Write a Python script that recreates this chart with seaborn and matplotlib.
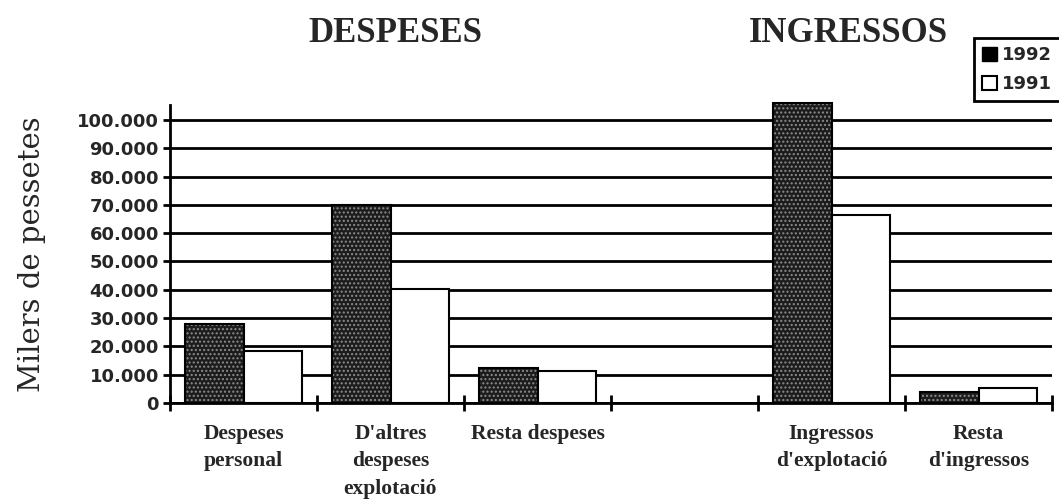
import matplotlib
matplotlib.use("Agg")
import matplotlib.pyplot as plt
import seaborn as sns
import pandas as pd

categories = ["Despeses\npersonal", "D'altres\ndespeses\nexplotació", "Resta despeses",
              "", "Ingressos\nd'explotació", "Resta\nd'ingressos"]
years = ["1992", "1991"]
vals_1992 = [28000, 70000, 12300, None, 106000, 4000]
vals_1991 = [18500, 40300, 11300, None, 66500, 5300]
yticks = list(range(0, 100001, 10000))
ytick_labels = ["0"] + [f"{v // 1000}.000" for v in yticks[1:]]

rows = []
for cat, a, b in zip(categories, vals_1992, vals_1991):
    if a is None:
        continue
    rows.append((cat, "1992", a))
    rows.append((cat, "1991", b))
df = pd.DataFrame(rows, columns=["cat", "year", "value"])

sns.set_style("white")
fig = plt.figure(figsize=(10.59, 5.01), dpi=100)
ax = fig.add_axes([170 / 1059, 98 / 501, 882 / 1059, 298 / 501])

sns.barplot(data=df, x="cat", y="value", hue="year", order=categories, hue_order=years,
            palette={"1992": "#1c1c1c", "1991": "white"}, edgecolor="black", linewidth=1.5,
            width=0.8, gap=0, saturation=1, ax=ax, zorder=3, legend=False)

# stippled look for the dark bars
for p in ax.patches:
    p.set_clip_on(False)
    if p.get_facecolor()[0] < 0.5:
        p.set_hatch("....")
        if hasattr(p, "set_hatchcolor"):
            p.set_hatchcolor("#8a8a8a")
        else:
            p._hatch_color = (0.55, 0.55, 0.55, 1)

ax.set_xlim(-0.5, 5.5)
ax.set_ylim(0, 105300)
ax.set_yticks(yticks)
ax.set_yticklabels(ytick_labels, fontfamily="DejaVu Sans", fontweight="bold", fontsize=13)
ax.yaxis.grid(True, color="black", linewidth=2)
ax.set_axisbelow(True)
ax.tick_params(axis="y", direction="out", length=5, width=2, color="black", pad=3, left=True)

ax.set_xticks(range(len(categories)))
ax.set_xticklabels(categories, fontfamily="Liberation Serif", fontweight="bold", fontsize=15.5)
for lbl in ax.get_xticklabels():
    lbl.set_linespacing(1.5)
ax.set_xticks([i - 0.5 for i in range(len(categories) + 1)], minor=True)
ax.tick_params(axis="x", which="major", length=0, pad=15)
ax.tick_params(axis="x", which="minor", direction="inout", length=12, width=2, color="black", bottom=True)

ax.set_xlabel("")
ax.set_ylabel("Milers de pessetes", fontfamily="DejaVu Serif", fontsize=21, labelpad=22)

for side in ["top", "right"]:
    ax.spines[side].set_visible(False)
for side in ["left", "bottom"]:
    ax.spines[side].set_color("black")
    ax.spines[side].set_linewidth(2)

fig.text(395 / 1059, 1 - 33 / 501, "DESPESES", ha="center", va="center",
         fontfamily="Liberation Serif", fontweight="bold", fontsize=25)
fig.text(848 / 1059, 1 - 33 / 501, "INGRESSOS", ha="center", va="center",
         fontfamily="Liberation Serif", fontweight="bold", fontsize=25)

handles = [plt.Rectangle((0, 0), 1, 1, facecolor="black", edgecolor="black"),
           plt.Rectangle((0, 0), 1, 1, facecolor="white", edgecolor="black", linewidth=1.5)]
leg = fig.legend(handles, years, loc="upper left", bbox_to_anchor=(974 / 1059, 1 - 38 / 501),
                 borderaxespad=0,
                 prop={"family": "DejaVu Sans", "weight": "bold", "size": 13},
                 handlelength=0.8, handleheight=0.8, handletextpad=0.3, borderpad=0.45,
                 labelspacing=0.6, fancybox=False, framealpha=1)
leg.get_frame().set_edgecolor("black")
leg.get_frame().set_linewidth(2)

fig.savefig("out.png", dpi=100)
